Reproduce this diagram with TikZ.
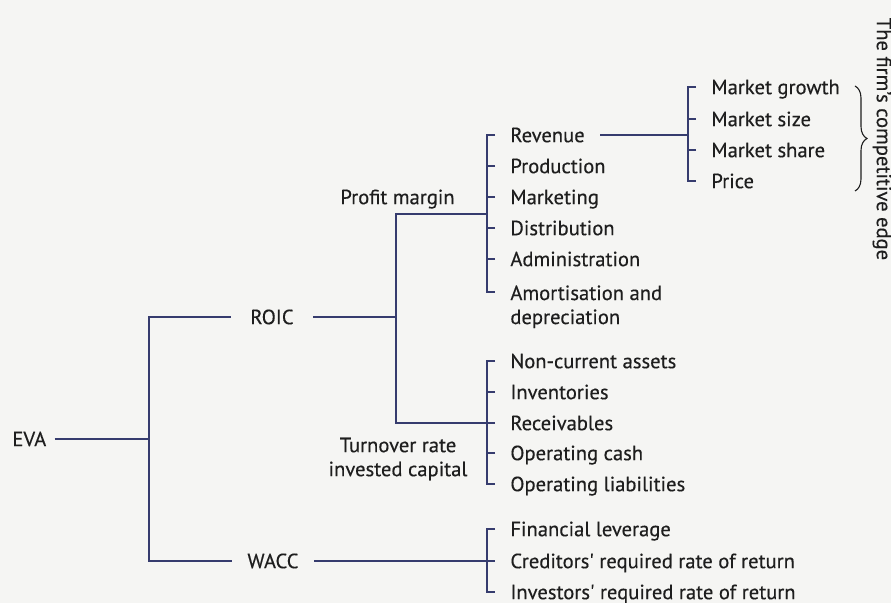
\documentclass[tikz,border=0pt]{standalone}
\usepackage{fontspec}
\setmainfont{PT Sans}[FakeBold=0.35]
\usetikzlibrary{calc,positioning,decorations.pathreplacing}
\definecolor{linkblue}{HTML}{363C6E}
\definecolor{inkgrey}{HTML}{1E1E1E}
\definecolor{paper}{HTML}{F5F5F3}
\tikzset{
  txt/.style={text=inkgrey, font=\fontsize{10.3}{12}\selectfont, inner sep=0pt},
  line1/.style={txt, text height=7.2pt, text depth=0pt},
  item/.style={line1, anchor=west, inner xsep=7.5pt},
  link/.style={draw=linkblue, line width=1.05pt},
}

\begin{document}
\begin{tikzpicture}[x=0.5pt,y=-0.5pt]
    \pgfmathsetmacro{\tick}{8}
    \fill[paper] (0,0) rectangle (891,603);
    \useasboundingbox (0,0) rectangle (891,603);

    % first level
    \node[line1, anchor=west, inner xsep=4pt] (eva) at (4,439) {EVA};
    \node[line1, minimum width=41pt] (roic) at (272,317) {ROIC};
    \node[line1, minimum width=41pt] (wacc) at (273,561) {WACC};
    \coordinate (evaj) at (149,439);
    \draw[link] (eva.east) -- (evaj);
    \draw[link] (roic.west) -| (evaj) |- (wacc.west);

    % ROIC split
    \node[line1, anchor=west] (pm) at (340,197) {Profit margin};
    \node[txt, align=center] (turn) at (398,459) {Turnover rate\\invested capital};
    \coordinate (roicj) at (396,317);
    \coordinate (costj) at (487,214);
    \coordinate (assetj) at (487,423);
    \draw[link] (roic.east) -- (roicj);
    \draw[link] (costj) -| (roicj) |- (assetj);

    % costs
    \node[item] (rev) at (495,135) {Revenue};
    \node[item] (prod) at (495,166) {Production};
    \node[item] (mkt) at (495,197) {Marketing};
    \node[item] (dist) at (495,228) {Distribution};
    \node[item] (adm) at (495,259) {Administration};
    \node[txt, anchor=north west, inner xsep=7.5pt, align=left] (amort) at (495,285)
        {Amortisation and\\depreciation};
    \draw[link] (rev.west) -- ++(-\tick,0) |- ([yshift=-3.6pt]amort.north west);
    \foreach \n in {prod,mkt,dist,adm}
        \draw[link] (\n.west) -- ++(-\tick,0);

    % market
    \node[item] (growth) at (696,87) {Market growth};
    \node[item] (size) at (696,119) {Market size};
    \node[item] (share) at (696,150) {Market share};
    \node[item] (price) at (696,181) {Price};
    \coordinate (mktj) at (688,135);
    \draw[link] (rev.east) -- (mktj);
    \draw[link] (growth.west) -- ++(-\tick,0) |- (price.west);
    \foreach \n in {size,share}
        \draw[link] (\n.west) -- ++(-\tick,0);

    \draw[inkgrey, line width=0.55pt, decorate, decoration={brace, amplitude=6pt}]
        (855,86) -- (855,191);
    \node[txt, rotate=-90] (edge) at (882,139) {The firm's competitive edge};

    % invested capital
    \node[item] (nca) at (495,361) {Non-current assets};
    \node[item] (inv) at (495,392) {Inventories};
    \node[item] (rec) at (495,423) {Receivables};
    \node[item] (cash) at (495,453) {Operating cash};
    \node[item] (liab) at (495,484) {Operating liabilities};
    \draw[link] (nca.west) -- ++(-\tick,0) |- (liab.west);
    \foreach \n in {inv,rec,cash}
        \draw[link] (\n.west) -- ++(-\tick,0);

    % WACC
    \node[item] (lev) at (495,529) {Financial leverage};
    \node[item] (cred) at (495,561) {Creditors\textquotesingle{} required rate of return};
    \node[item] (invr) at (495,592) {Investors\textquotesingle{} required rate of return};
    \draw[link] (wacc.east) -- (cred.west);
    \draw[link] (lev.west) -- ++(-\tick,0) |- (invr.west);
\end{tikzpicture}
\end{document}
